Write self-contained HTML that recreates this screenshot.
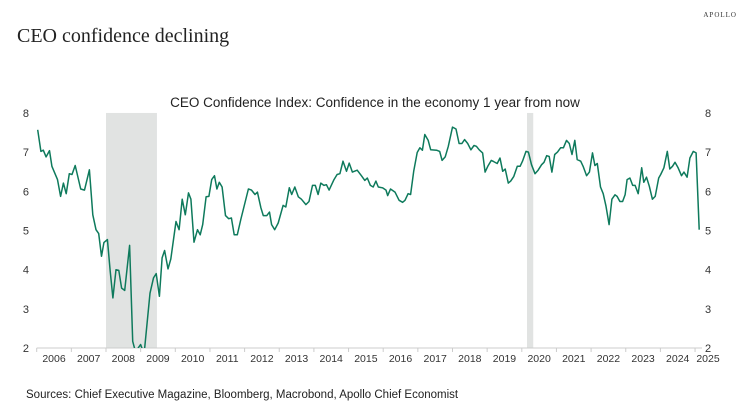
<!DOCTYPE html>
<html><head><meta charset="utf-8"><style>
html,body{margin:0;padding:0;background:#fff;}
body{width:744px;height:402px;position:relative;overflow:hidden;}
svg{position:absolute;left:0;top:0;}
</style></head><body>
<svg width="744" height="402" xmlns="http://www.w3.org/2000/svg">
<text x="17" y="42" font-family="Liberation Serif, serif" font-size="20" fill="#222">CEO confidence declining</text>
<text x="737" y="17" text-anchor="end" font-family="Liberation Serif, serif" font-size="7" letter-spacing="1" fill="#333">APOLLO</text>
<text x="375" y="107" text-anchor="middle" font-family="Liberation Sans, sans-serif" font-size="13.5" fill="#222">CEO Confidence Index: Confidence in the economy 1 year from now</text>
<text x="26" y="398" font-family="Liberation Sans, sans-serif" font-size="11.5" fill="#222">Sources: Chief Executive Magazine, Bloomberg, Macrobond, Apollo Chief Economist</text>
<defs><clipPath id="plot"><rect x="30" y="108" width="680" height="240"/></clipPath></defs>
<g id="shade"></g>
<g id="axes"></g>
<g id="line" clip-path="url(#plot)"></g>
</svg>
<script>
const dates=[2006.03,2006.12,2006.19,2006.27,2006.37,2006.44,2006.6,2006.69,2006.77,2006.85,2006.94,2007.02,2007.11,2007.27,2007.38,2007.52,2007.62,2007.71,2007.79,2007.87,2007.94,2008.04,2008.12,2008.2,2008.29,2008.37,2008.45,2008.54,2008.68,2008.77,2008.85,2009.0,2009.1,2009.27,2009.37,2009.45,2009.54,2009.62,2009.69,2009.79,2009.87,2010.02,2010.11,2010.2,2010.29,2010.38,2010.45,2010.54,2010.64,2010.72,2010.79,2010.89,2010.97,2011.05,2011.13,2011.2,2011.27,2011.35,2011.45,2011.54,2011.62,2011.7,2011.79,2011.89,2012.11,2012.2,2012.3,2012.37,2012.47,2012.54,2012.64,2012.72,2012.78,2012.87,2012.97,2013.11,2013.19,2013.29,2013.36,2013.45,2013.55,2013.64,2013.77,2013.86,2013.96,2014.04,2014.12,2014.2,2014.29,2014.36,2014.44,2014.58,2014.67,2014.75,2014.84,2014.94,2015.02,2015.11,2015.25,2015.37,2015.47,2015.54,2015.63,2015.71,2015.79,2015.86,2015.98,2016.08,2016.13,2016.21,2016.34,2016.46,2016.56,2016.63,2016.72,2016.79,2016.88,2016.98,2017.06,2017.13,2017.2,2017.3,2017.37,2017.54,2017.63,2017.7,2017.79,2017.88,2018.0,2018.1,2018.19,2018.27,2018.35,2018.44,2018.53,2018.62,2018.69,2018.77,2018.87,2018.94,2019.02,2019.12,2019.19,2019.29,2019.37,2019.45,2019.52,2019.61,2019.68,2019.77,2019.87,2019.95,2020.02,2020.12,2020.19,2020.28,2020.38,2020.47,2020.57,2020.64,2020.72,2020.79,2020.87,2020.95,2021.03,2021.12,2021.2,2021.29,2021.37,2021.45,2021.53,2021.6,2021.7,2021.77,2021.87,2021.95,2022.04,2022.11,2022.18,2022.27,2022.35,2022.43,2022.52,2022.6,2022.69,2022.75,2022.83,2022.91,2022.98,2023.04,2023.12,2023.2,2023.27,2023.36,2023.46,2023.52,2023.6,2023.68,2023.77,2023.85,2023.95,2024.01,2024.1,2024.2,2024.27,2024.35,2024.42,2024.51,2024.61,2024.68,2024.77,2024.85,2024.95,2025.03,2025.12];
const values=[7.57,7.02,7.05,6.88,7.04,6.64,6.30,5.87,6.21,5.94,6.45,6.43,6.66,6.06,6.03,6.55,5.40,5.02,4.92,4.34,4.69,4.77,3.96,3.28,4.00,3.98,3.53,3.47,4.62,2.17,1.9,2.09,1.85,3.40,3.79,3.90,3.32,4.30,4.49,4.02,4.27,5.23,5.02,5.80,5.40,5.96,5.80,4.70,5.02,4.89,5.15,5.86,5.87,6.30,6.40,6.06,6.23,6.11,5.38,5.30,5.32,4.89,4.89,5.28,6.06,6.03,5.92,5.98,5.58,5.38,5.38,5.47,5.15,5.02,5.19,5.64,5.60,6.09,5.92,6.11,5.86,5.80,5.66,5.74,6.15,6.15,5.92,6.21,6.15,6.17,6.03,6.30,6.43,6.45,6.77,6.51,6.72,6.49,6.54,6.40,6.28,6.34,6.15,6.11,6.26,6.11,6.09,6.03,5.89,6.06,5.98,5.77,5.72,5.77,5.94,5.92,6.51,6.99,7.11,7.05,7.45,7.30,7.06,7.05,7.02,6.79,6.88,7.15,7.64,7.59,7.22,7.22,7.32,7.22,7.06,7.17,7.15,7.06,6.98,6.49,6.64,6.79,6.76,6.71,6.85,6.51,6.57,6.21,6.26,6.38,6.64,6.64,6.77,7.02,7.00,6.68,6.45,6.54,6.68,6.74,6.91,6.89,6.49,6.94,7.00,7.11,7.11,7.30,7.22,6.94,7.30,6.81,6.77,6.64,6.40,6.49,6.98,6.66,6.71,6.11,5.94,5.62,5.15,5.80,5.91,5.87,5.74,5.74,5.91,6.30,6.34,6.15,6.15,5.94,6.60,6.23,6.36,6.13,5.80,5.87,6.34,6.43,6.60,7.02,6.57,6.64,6.74,6.60,6.40,6.49,6.36,6.85,7.02,6.98,5.02];
const yTicks=[2,3,4,5,6,7,8];
const xYears=[2006,2007,2008,2009,2010,2011,2012,2013,2014,2015,2016,2017,2018,2019,2020,2021,2022,2023,2024,2025];
const recessions=[[2008.0,2009.47],[2020.15,2020.33]];
const NS='http://www.w3.org/2000/svg';
const X=t=>36.7+(t-2006)*34.65;
const Y=v=>348-(v-2)*39.17;
function mk(tag,attrs,parent){const e=document.createElementNS(NS,tag);for(const k in attrs)e.setAttribute(k,attrs[k]);document.getElementById(parent).appendChild(e);return e;}
recessions.forEach(r=>{
 const e=mk('rect',{x:X(r[0]),y:Y(8),width:X(r[1])-X(r[0]),height:Y(2)-Y(8),fill:'#e1e3e2'},'shade');
 
 
});
const ax=mk('line',{x1:X(2006),x2:X(2025.2),y1:Y(2),y2:Y(2),stroke:'#ccc','stroke-width':1},'axes');


yTicks.forEach(v=>{
 const a=mk('text',{x:29,y:Y(v)+4,'text-anchor':'end','font-family':'Liberation Sans, sans-serif','font-size':11,fill:'#333'},'axes');a.textContent=v;
 
 
 const b=mk('text',{x:705,y:Y(v)+4,'font-family':'Liberation Sans, sans-serif','font-size':11,fill:'#333'},'axes');b.textContent=v;
 
 
});
xYears.forEach(yr=>{
 const t=mk('line',{x1:X(yr),x2:X(yr),y1:Y(2),y2:Y(2)+4,stroke:'#ccc'},'axes');
 
 
 const l=mk('text',{x:Math.min(X(yr+0.5),708),y:362,'text-anchor':'middle','font-family':'Liberation Sans, sans-serif','font-size':10.5,fill:'#333'},'axes');l.textContent=yr;
 
 
});
const d=dates.map((t,i)=>(i?'L':'M')+X(t).toFixed(1)+' '+Y(values[i]).toFixed(1)).join(' ');
const p=mk('path',{d:d,fill:'none',stroke:'#0e7a5c','stroke-width':1.5,'stroke-linejoin':'round'},'line');


</script>
</body></html>
